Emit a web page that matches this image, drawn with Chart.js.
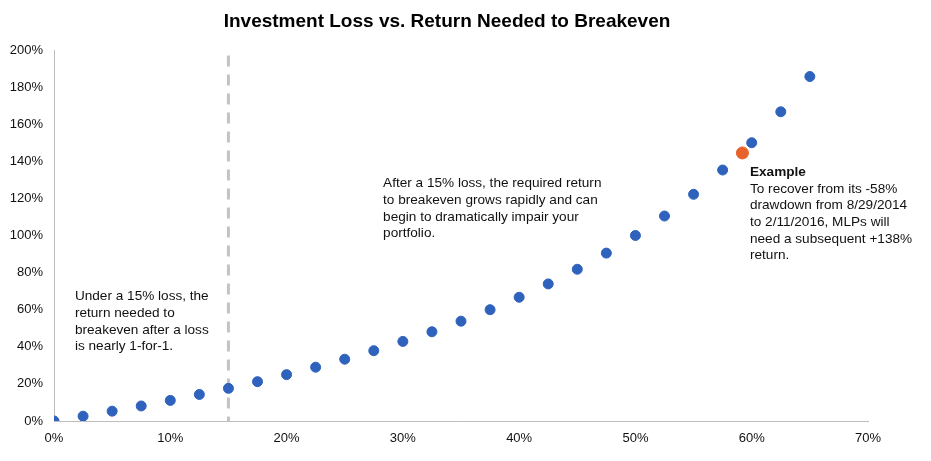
<!DOCTYPE html>
<html>
<head>
<meta charset="utf-8">
<script src="https://cdn.jsdelivr.net/npm/chart.js@4"></script>
<style>
  html, body { margin: 0; padding: 0; background: #fff; }
  #wrap { width: 931px; height: 461px; }
</style>
</head>
<body>
<div id="wrap"><canvas id="myChart" width="931" height="461"></canvas></div>
<script>
// loss (x) and return needed (y), both in %
var lossPct = [0, 2.5, 5, 7.5, 10, 12.5, 15, 17.5, 20, 22.5, 25, 27.5, 30, 32.5, 35,
               37.5, 40, 42.5, 45, 47.5, 50, 52.5, 55, 57.5, 60, 62.5, 65];
var returnNeeded = [0, 2.6, 5.3, 8.1, 11.1, 14.3, 17.6, 21.2, 25, 29, 33.3, 37.9, 42.9, 48.1, 53.8,
                    60, 66.7, 73.9, 81.8, 90.5, 100, 110.5, 122.2, 135.3, 150, 166.7, 185.7];
// MLP example point
var exampleLoss = [59.2];
var exampleReturn = [144.5];
var xTicks = [0, 10, 20, 30, 40, 50, 60, 70];
var yTicks = [0, 20, 40, 60, 80, 100, 120, 140, 160, 180, 200];

var notes = [
  { x: 1.8, y: 67, lines: ['Under a 15% loss, the', 'return needed to', 'breakeven after a loss', 'is nearly 1-for-1.'] },
  { x: 28.3, y: 128, lines: ['After a 15% loss, the required return', 'to breakeven grows rapidly and can', 'begin to dramatically impair your', 'portfolio.'] }
];

function toPoints(xs, ys) {
  return xs.map(function (v, i) { return { x: v, y: ys[i] }; });
}

var FONT = '"Liberation Sans", Arial, sans-serif';

// dashed line at 15% and the text boxes
var notesPlugin = {
  id: 'notes',
  beforeDatasetsDraw: function (chart) {
    var ctx = chart.ctx, xs = chart.scales.x, ys = chart.scales.y;
    var px = xs.getPixelForValue(15);
    ctx.save();
    ctx.strokeStyle = '#c3c3c3';
    ctx.lineWidth = 3;
    ctx.setLineDash([11, 8]);
    ctx.beginPath();
    ctx.moveTo(px, ys.getPixelForValue(197));
    ctx.lineTo(px, ys.getPixelForValue(0));
    ctx.stroke();
    ctx.restore();
  },
  afterDatasetsDraw: function (chart) {
    var ctx = chart.ctx, xs = chart.scales.x, ys = chart.scales.y;
    ctx.save();
    ctx.fillStyle = '#111';
    ctx.textBaseline = 'middle';
    ctx.textAlign = 'left';
    notes.forEach(function (n) {
      var x0 = xs.getPixelForValue(n.x), y0 = ys.getPixelForValue(n.y);
      ctx.font = '13.6px ' + FONT;
      n.lines.forEach(function (t, i) {
        ctx.fillText(t, x0, y0 + i * 16.6);
      });
    });
    // example label
    var ex = xs.getPixelForValue(59.85), ey = ys.getPixelForValue(134);
    ctx.font = 'bold 13.6px ' + FONT;
    ctx.fillText('Example', ex, ey);
    ctx.font = '13.6px ' + FONT;
    ['To recover from its -58%', 'drawdown from 8/29/2014', 'to 2/11/2016, MLPs will',
     'need a subsequent +138%', 'return.'].forEach(function (t, i) {
      ctx.fillText(t, ex, ey + 16.6 * (i + 1));
    });
    ctx.restore();
  }
};

var tickFont = { family: FONT, size: 13 };

var ctx = document.getElementById('myChart').getContext('2d');
var myChart = new Chart(ctx, {
  type: 'scatter',
  data: {
    datasets: [{
      label: 'MLP example',
      data: toPoints(exampleLoss, exampleReturn),
      backgroundColor: '#e8632b',
      borderColor: '#e8632b',
      pointRadius: 6,
      pointHoverRadius: 6
    }, {
      label: 'Return needed',
      data: toPoints(lossPct, returnNeeded),
      backgroundColor: '#2f62bd',
      borderColor: '#2f62bd',
      pointRadius: 5,
      pointHoverRadius: 5
    }]
  },
  options: {
    responsive: false,
    animation: false,
    layout: { padding: { top: 0, right: 37, left: 0, bottom: 0 } },
    plugins: {
      legend: { display: false },
      tooltip: { enabled: false },
      title: {
        display: true,
        text: 'Investment Loss vs. Return Needed to Breakeven',
        color: '#000',
        font: { family: FONT, size: 19, weight: 'bold' },
        padding: { top: 10.4, bottom: 16.8 }
      }
    },
    scales: {
      x: {
        type: 'linear',
        min: 0, max: 70,
        afterBuildTicks: function (s) { s.ticks = xTicks.map(function (v) { return { value: v }; }); },
        afterFit: function (s) { s.height = 40; },
        grid: { display: false, drawTicks: false },
        border: { display: true, color: '#bdbdbd', width: 1 },
        ticks: { color: '#111', font: tickFont, padding: 10, callback: function (v) { return v + '%'; } }
      },
      y: {
        type: 'linear',
        min: 0, max: 200,
        afterBuildTicks: function (s) { s.ticks = yTicks.map(function (v) { return { value: v }; }); },
        afterFit: function (s) { s.width = 54; },
        grid: { display: false, drawTicks: false },
        border: { display: true, color: '#bdbdbd', width: 1 },
        ticks: { color: '#111', font: tickFont, padding: 11, callback: function (v) { return v + '%'; } }
      },
      // empty spacer on the right so the plot ends at the same place as the original
      yRight: {
        type: 'linear',
        position: 'right',
        min: 0, max: 200,
        afterFit: function (s) { s.width = 26; },
        grid: { display: false, drawTicks: false },
        border: { display: false },
        ticks: { display: false }
      }
    }
  },
  plugins: [notesPlugin]
});
</script>
</body>
</html>
